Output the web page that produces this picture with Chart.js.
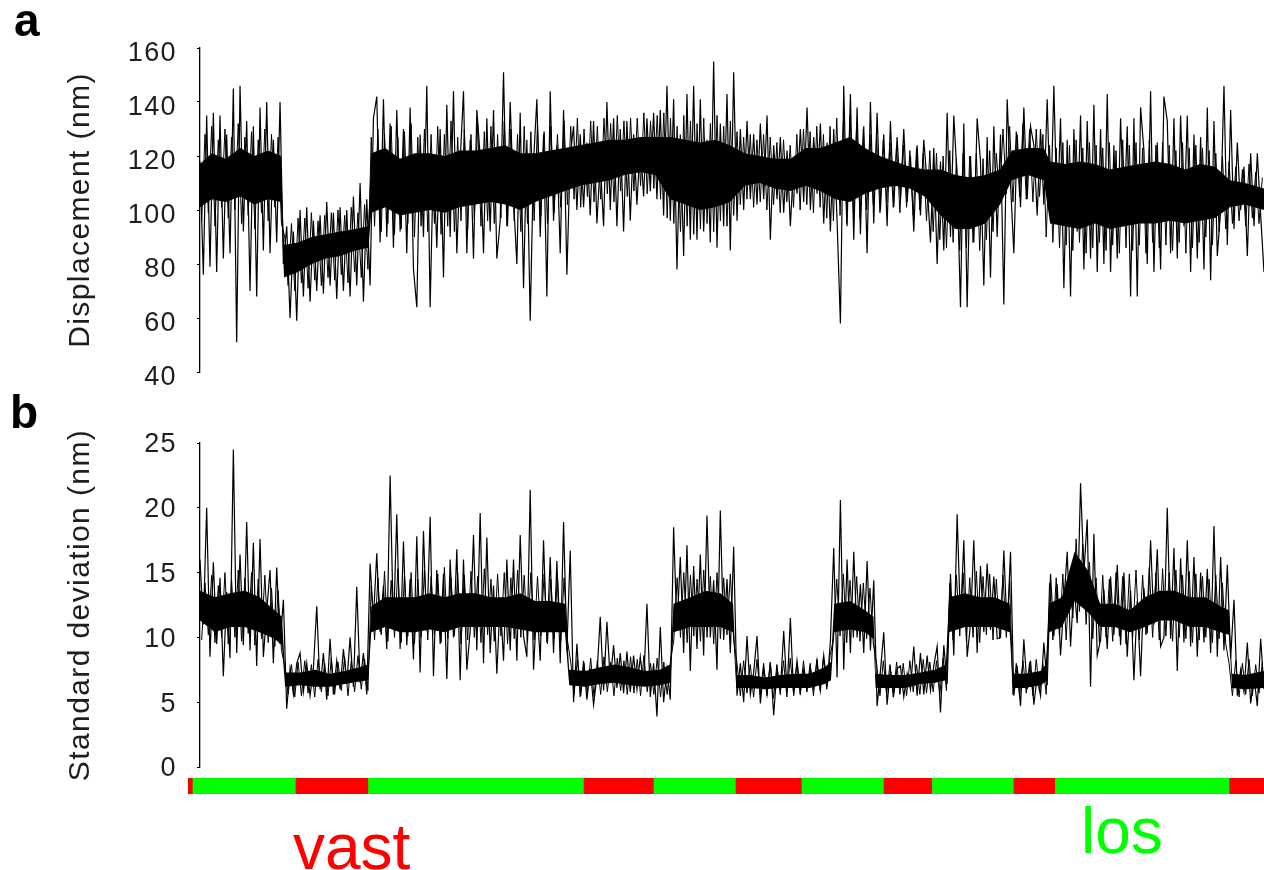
<!DOCTYPE html>
<html>
<head>
<meta charset="utf-8">
<script src="https://cdn.jsdelivr.net/npm/chart.js@4.4.1/dist/chart.umd.min.js"></script>
<style>
    html, body { margin: 0; padding: 0; background: #fff; }
    #wrap { position: relative; width: 1264px; height: 870px; overflow: hidden; font-family: "Liberation Sans", Arial, sans-serif; }
    canvas { position: absolute; left: 0; }
    #chartA { top: 0; }
    #chartB { top: 400px; }
    #chartS { top: 770px; }
    .tag { position: absolute; line-height: 1; white-space: nowrap; }
    .panel { font-weight: bold; font-size: 46px; color: #000; }
    .state { font-size: 64px; }
</style>
</head>
<body>
<div id="wrap">
    <canvas id="chartA" width="1264" height="400"></canvas>
    <canvas id="chartB" width="1264" height="390"></canvas>
    <canvas id="chartS" width="1264" height="30"></canvas>
    <div class="tag panel" style="left:14px; top:-3px;">a</div>
    <div class="tag panel" style="left:10px; top:389px;">b</div>
    <div class="tag state" style="left:293px; top:815px; color:#ff0000;">vast</div>
    <div class="tag state" style="left:1081px; top:799px; color:#00ff00;">los</div>
</div>

<script>
/* ===========================================
   DATA
=========================================== */
const dispTicks = [40, 60, 80, 100, 120, 140, 160];
const sdTicks = [0, 5, 10, 15, 20, 25];

// displacement trace: successive extreme samples, left to right
const dispTrace = [
    118, 76, 135, 79, 136, 77, 135, 82, 128, 84,
    145, 51, 146, 92, 133, 70, 131, 68, 138, 85,
    140, 84, 126, 88, 140, 80, 94, 60, 92, 59,
    100, 68, 101, 66, 96, 70, 98, 69, 103, 72,
    99, 67, 101, 70, 100, 68, 105, 72, 110, 66,
    104, 72, 134, 142, 88, 141, 90, 132, 86, 137,
    92, 130, 84, 138, 78, 64, 128, 90, 146, 64,
    120, 86, 130, 75, 139, 90, 144, 84, 118, 144,
    84, 126, 82, 137, 120, 84, 134, 92, 137, 82,
    96, 151, 94, 140, 104, 80, 136, 71, 126, 59,
    118, 141, 90, 128, 68, 144, 96, 124, 84, 137,
    76, 120, 131, 100, 128, 101, 125, 98, 133, 95,
    118, 94, 140, 100, 134, 94, 130, 92, 133, 96,
    128, 102, 125, 105, 134, 107, 136, 104, 137, 98,
    146, 96, 141, 78, 128, 83, 143, 89, 146, 89,
    141, 92, 126, 88, 155, 86, 132, 94, 143, 85,
    151, 96, 130, 100, 133, 104, 128, 102, 132, 104,
    135, 89, 124, 104, 127, 99, 122, 94, 118, 106,
    130, 103, 138, 100, 127, 106, 132, 95, 125, 92,
    130, 96, 58, 146, 94, 143, 89, 138, 91, 131,
    84, 140, 95, 136, 100, 128, 94, 133, 101, 127,
    104, 130, 103, 120, 92, 124, 98, 126, 110, 88,
    123, 80, 118, 85, 136, 90, 135, 112, 64, 132,
    64, 120, 88, 134, 118, 72, 127, 75, 131, 90,
    128, 65, 141, 110, 84, 128, 101, 138, 104, 131,
    124, 98, 130, 102, 141, 97, 146, 96, 134, 71,
    126, 68, 130, 92, 135, 78, 133, 82, 139, 77,
    130, 80, 143, 77, 124, 82, 134, 96, 131, 68,
    134, 68, 138, 122, 80, 144, 77, 125, 78, 142,
    133, 84, 134, 82, 135, 94, 135, 77, 128, 82,
    127, 78, 138, 74, 133, 83, 100, 146, 87, 137,
    93, 125, 100, 116, 83, 121, 94, 121, 98, 77
];

// in-between samples of the same trace (smaller excursions)
const dispFine = [
    96, 128, 99, 131, 94, 126, 101, 130, 97, 127,
    100, 132, 95, 127, 98, 129, 93, 126, 99, 130,
    96, 128, 101, 127, 95, 90, 72, 95, 70, 97,
    73, 97, 71, 99, 74, 96, 72, 98, 75, 99,
    74, 100, 76, 98, 73, 101, 77, 99, 75, 102,
    78, 127, 94, 130, 92, 128, 95, 131, 91, 127,
    93, 129, 95, 132, 90, 127, 94, 130, 92, 128,
    95, 131, 91, 128, 94, 133, 92, 127, 96, 130,
    93, 128, 97, 132, 94, 129, 96, 131, 95, 128,
    97, 133, 94, 130, 96, 128, 92, 131, 95, 129,
    96, 132, 98, 129, 95, 131, 99, 128, 101, 133,
    102, 131, 104, 134, 101, 130, 105, 133, 103, 131,
    104, 134, 106, 132, 103, 135, 107, 133, 105, 134,
    107, 134, 109, 136, 106, 133, 108, 135, 104, 136,
    97, 134, 95, 131, 92, 135, 94, 133, 91, 132,
    93, 134, 95, 132, 92, 135, 96, 131, 94, 133,
    98, 129, 102, 127, 104, 128, 101, 126, 103, 128,
    100, 127, 102, 125, 99, 126, 103, 124, 101, 128,
    100, 130, 102, 129, 99, 131, 101, 128, 97, 131,
    96, 134, 98, 133, 95, 135, 99, 132, 97, 130,
    100, 128, 102, 127, 99, 126, 103, 125, 101, 124,
    99, 124, 101, 122, 98, 123, 100, 121, 96, 122,
    92, 121, 89, 120, 86, 122, 88, 119, 85, 121,
    86, 120, 88, 121, 85, 119, 89, 122, 92, 121,
    104, 130, 106, 131, 103, 129, 105, 132, 104, 130,
    103, 130, 105, 128, 90, 124, 88, 123, 86, 125,
    87, 124, 85, 126, 88, 123, 84, 125, 86, 124,
    88, 123, 85, 125, 87, 122, 84, 126, 86, 124,
    85, 125, 87, 123, 84, 126, 88, 124, 86, 125,
    87, 124, 85, 122, 88, 125, 84, 123, 86, 124,
    88, 123, 90, 122, 87, 121, 92, 120, 93, 118,
    95, 116, 96, 115, 94, 117, 97, 114, 95, 112
];

// dense (solid black) band of the displacement trace; time in % of recording
const dispCoreT = [
    0, 1.1, 2.4, 3.8, 5.1, 6.4, 7.6,
    7.9, 9.2, 10.5, 11.8, 13.2, 14.6, 15.8,
    16.1, 17.4, 18.8, 20.2, 21.6, 23.0, 24.4, 25.9, 27.3, 28.7, 30.1, 31.5, 32.9, 34.3, 35.7, 37.1, 38.5, 39.9, 41.4, 42.8,
    44.2, 45.6, 47.0, 48.4, 49.8, 51.2, 52.6, 54.0, 55.5, 56.9, 58.3, 59.7, 61.1, 62.5, 63.9, 65.3, 66.7, 68.1, 69.6, 71.0, 72.4, 73.8, 75.2,
    76.3, 77.8, 79.3, 79.9,
    81.3, 82.7, 84.1, 85.5, 86.9, 88.3, 89.8, 91.2, 92.6, 94.0, 95.4, 96.8, 98.2, 100
];
const dispCoreLo = [
    101, 104, 103, 105, 102, 104, 103,
    75, 77, 80, 82, 83, 85, 86,
    99, 101, 98, 99, 100, 99, 101, 102, 103, 102, 100, 103, 105, 107, 109, 110, 111, 113, 114, 113,
    104, 102, 100, 101, 103, 109, 110, 108, 107, 109, 107, 104, 103, 106, 108, 109, 108, 105, 98, 93, 93, 95, 102,
    111, 113, 111, 95,
    94, 93, 95, 93, 94, 95, 95, 96, 95, 96, 97, 101, 102, 100
];
const dispCoreHi = [
    117, 121, 119, 123, 120, 122, 120,
    87, 88, 90, 91, 92, 93, 94,
    121, 123, 119, 121, 121, 120, 122, 122, 123, 124, 121, 121, 122, 123, 124, 125, 126, 126, 127, 127,
    127, 126, 125, 126, 124, 121, 120, 119, 119, 123, 123, 125, 127, 123, 120, 118, 116, 115, 115, 113, 112, 113, 115,
    122, 123, 123, 118,
    117, 118, 117, 115, 116, 117, 118, 117, 115, 117, 116, 111, 110, 108
];

// standard deviation trace
const sdTrace = [
    16, 11, 20, 8.5, 15.8, 9.5, 14.6, 7.0, 13.5, 8.4,
    24.5, 8.8, 16.4, 9.4, 18.9, 9.0, 17.3, 7.8, 17.6, 8.5,
    12.0, 15.2, 8.0, 15.4, 9.5, 12.9, 4.5, 7.6, 5.6, 8.0,
    8.8, 5.8, 8.0, 5.5, 7.6, 12.4, 6.0, 8.8, 5.2, 9.9,
    5.6, 8.2, 6.0, 9.1, 6.4, 10.0, 6.2, 13.9, 6.5, 8.8,
    5.6, 15.7, 11.4, 16.5, 10.4, 14.0, 9.1, 22.5, 10.6, 19.5,
    9.1, 17.4, 9.4, 14.5, 8.3, 17.8, 7.3, 18.2, 10.5, 19.3,
    7.0, 15.2, 9.5, 14.9, 6.8, 16.0, 10.0, 16.8, 6.7, 16.0,
    7.5, 10.5, 17.9, 9.0, 19.6, 8.0, 17.7, 8.8, 14.0, 7.2,
    13.0, 8.2, 16.0, 9.0, 16.0, 8.2, 17.9, 10.1, 8.5, 21.4,
    7.5, 12.6, 8.2, 17.5, 9.6, 16.2, 8.8, 15.9, 8.0, 18.9,
    9.0, 16.7, 5.0, 9.5, 5.4, 8.2, 5.2, 7.6, 4.8, 7.0,
    11.6, 5.9, 11.2, 6.6, 9.4, 6.1, 8.8, 5.7, 8.9, 5.8,
    8.6, 6.0, 8.5, 6.3, 12.6, 5.4, 8.0, 3.9, 10.8, 5.0,
    7.6, 5.2, 18.5, 10.5, 16.2, 8.8, 17.1, 7.4, 15.5, 9.1,
    16.4, 8.6, 19.4, 10.0, 14.4, 7.5, 19.8, 9.8, 14.5, 8.8,
    17.0, 5.5, 8.0, 5.0, 10.1, 5.6, 7.3, 10.1, 4.9, 7.6,
    5.6, 8.0, 4.0, 7.6, 5.9, 10.5, 5.8, 11.5, 5.5, 8.2,
    5.8, 7.5, 6.0, 7.6, 6.1, 8.2, 5.9, 8.6, 6.2, 9.7,
    16.9, 6.9, 20.6, 7.5, 16.0, 8.8, 16.6, 10.0, 14.1, 8.8,
    15.9, 9.0, 14.4, 4.7, 7.4, 10.4, 4.8, 7.5, 5.6, 7.6,
    7.8, 5.4, 7.2, 6.0, 9.3, 5.5, 8.8, 5.6, 8.6, 5.9,
    7.8, 9.3, 4.2, 9.4, 6.4, 14.9, 8.6, 19.5, 11.2, 17.5,
    8.5, 11.0, 17.5, 8.8, 15.5, 10.4, 15.7, 10.6, 14.7, 9.9,
    10.0, 16.7, 10.5, 16.6, 5.5, 7.8, 4.7, 9.85, 6.0, 8.2,
    4.8, 7.0, 5.5, 9.6, 6.3, 14.9, 10.1, 14.1, 8.6, 12.7,
    16.6, 9.3, 14.0, 11.1, 21.9, 15.0, 19.1, 6.2, 18.0, 8.6,
    9.8, 13.7, 9.1, 14.7, 10.2, 15.6, 9.4, 15.0, 8.5, 13.6,
    6.7, 12.8, 7.0, 13.8, 10.3, 17.5, 11.0, 16.8, 9.3, 10.0,
    20.0, 9.9, 16.9, 7.4, 16.1, 9.6, 17.5, 9.3, 16.2, 8.5,
    15.0, 9.6, 15.3, 8.8, 18.6, 8.5, 16.2, 9.0, 15.6, 8.4,
    12.9, 5.5, 7.5, 5.8, 9.6, 4.9, 7.0, 4.7, 9.9, 6.0
];

const sdFine = [
    9.8, 14.2, 10.2, 14.8, 9.6, 14.0, 10.0, 15.0, 9.5, 14.4,
    10.0, 15.2, 9.7, 14.6, 10.3, 15.0, 9.4, 14.5, 9.9, 14.8,
    9.6, 13.8, 9.3, 13.6, 9.0, 7.8, 5.6, 7.9, 5.4, 8.1,
    5.5, 8.2, 5.7, 7.9, 5.4, 8.3, 5.8, 8.0, 5.5, 8.4,
    5.6, 8.1, 5.9, 8.5, 5.5, 8.2, 5.8, 8.6, 6.0, 8.3,
    5.9, 14.0, 9.8, 14.6, 10.2, 15.1, 9.7, 14.4, 10.0, 15.3,
    9.6, 14.8, 10.1, 15.0, 9.5, 14.5, 10.0, 15.2, 9.8, 14.7,
    10.2, 14.9, 9.6, 15.4, 9.9, 14.6, 10.1, 15.0, 9.5, 14.8,
    9.8, 15.1, 10.0, 14.7, 9.6, 15.3, 10.2, 14.5, 9.7, 14.9,
    10.1, 15.0, 9.5, 14.6, 9.9, 15.2, 10.0, 14.8, 9.6, 15.0,
    9.8, 14.7, 10.1, 14.9, 9.5, 14.5, 9.9, 14.8, 9.7, 14.6,
    9.8, 8.1, 5.6, 8.3, 5.5, 8.0, 5.7, 8.4, 5.4, 8.2,
    5.6, 8.5, 5.8, 8.1, 5.5, 8.4, 5.9, 8.2, 5.6, 8.5,
    5.7, 8.3, 5.5, 8.6, 5.8, 8.0, 5.6, 8.4, 5.4, 8.1,
    5.6, 8.2, 9.8, 14.6, 10.0, 15.0, 9.6, 14.8, 10.1, 14.5,
    9.7, 15.2, 10.0, 14.7, 9.5, 15.0, 9.9, 14.6, 10.2, 14.9,
    9.8, 8.0, 5.5, 8.2, 5.7, 7.9, 5.4, 8.3, 5.6, 8.0,
    5.5, 8.1, 5.3, 7.9, 5.6, 8.2, 5.4, 8.4, 5.7, 8.0,
    5.6, 8.2, 5.8, 8.0, 5.5, 8.3, 5.9, 8.5, 6.0, 8.6,
    9.8, 14.5, 10.1, 14.9, 9.6, 14.4, 10.0, 14.7, 9.7, 14.2,
    9.9, 13.8, 9.5, 8.0, 5.5, 8.2, 5.6, 7.9, 5.4, 8.1,
    5.6, 8.0, 5.5, 8.2, 5.8, 7.9, 5.6, 8.3, 5.7, 8.1,
    5.8, 8.2, 5.6, 8.4, 5.9, 14.2, 9.8, 14.8, 10.1, 15.0,
    9.7, 14.6, 10.0, 15.1, 9.6, 14.7, 10.2, 14.9, 9.8, 14.5,
    9.9, 14.8, 10.0, 14.3, 5.6, 8.0, 5.5, 8.2, 5.7, 8.1,
    5.5, 8.3, 5.8, 8.0, 5.6, 14.2, 9.8, 14.6, 10.1, 14.9,
    9.8, 15.0, 11.5, 17.6, 12.0, 17.2, 11.0, 15.8, 9.9, 14.6,
    9.6, 14.8, 10.0, 14.5, 9.7, 15.0, 10.1, 14.7, 9.5, 14.9,
    10.0, 15.2, 9.8, 14.8, 10.2, 15.4, 10.0, 15.0, 9.8, 15.3,
    10.1, 15.0, 9.7, 15.2, 10.0, 14.8, 9.9, 15.1, 9.6, 14.9,
    9.8, 14.7, 10.0, 14.5, 9.6, 14.8, 9.9, 14.2, 9.5, 8.0,
    5.5, 8.2, 5.4, 8.0, 5.6, 8.3, 5.5, 7.9, 5.7, 8.1
];

const sdCoreT = [
    0, 1.4, 2.8, 4.2, 5.6, 7.0, 7.7,
    8.0, 9.4, 10.8, 12.2, 13.6, 15.0, 15.8,
    16.1, 17.4, 18.8, 20.2, 21.6, 23.0, 24.4, 25.9, 27.3, 28.7, 30.1, 31.5, 32.9, 34.3,
    34.7, 36.2, 37.6, 39.0, 40.4, 41.8, 43.2, 44.2,
    44.5, 46.1, 47.5, 48.9, 50.1,
    50.4, 51.7, 53.1, 54.5, 55.9, 57.3, 58.7, 59.3,
    59.6, 61.1, 62.5, 63.3,
    63.5, 64.9, 66.3, 67.7, 69.1, 70.1,
    70.4, 71.9, 73.3, 74.7, 76.1,
    76.4, 77.5, 79.0, 79.5,
    79.8, 81.0, 82.2, 83.5, 84.6, 86.0, 87.4, 88.8, 90.2, 91.6, 93.0, 94.5, 95.9, 96.7,
    97.0, 98.2, 100
];
const sdCoreLo = [
    11.3, 10.4, 10.8, 10.8, 10.4, 9.9, 9.4,
    6.2, 6.3, 6.2, 6.2, 6.4, 6.6, 6.7,
    10.4, 10.8, 10.4, 10.4, 10.6, 10.4, 10.8, 10.8, 10.8, 10.8, 10.6, 10.4, 10.4, 10.4,
    6.3, 6.2, 6.4, 6.5, 6.3, 6.2, 6.3, 6.5,
    10.4, 10.8, 10.8, 10.8, 10.4,
    6.1, 6.1, 6.0, 6.1, 6.1, 6.1, 6.4, 6.7,
    10.4, 10.6, 10.4, 9.9,
    6.1, 6.1, 6.1, 6.4, 6.5, 6.7,
    10.4, 10.8, 10.8, 10.8, 10.4,
    6.1, 6.1, 6.3, 6.6,
    10.4, 10.8, 12.8, 11.9, 10.8, 10.8, 10.4, 10.8, 11.3, 11.3, 10.8, 10.8, 10.4, 10.2,
    6.1, 6.0, 6.1
];
const sdCoreHi = [
    13.6, 13.1, 13.4, 13.6, 13.1, 12.1, 11.6,
    7.3, 7.3, 7.5, 7.2, 7.4, 7.7, 7.9,
    12.4, 13.1, 13.1, 13.1, 13.4, 13.1, 13.4, 13.4, 13.1, 13.1, 13.4, 12.8, 12.8, 12.6,
    7.5, 7.4, 7.7, 7.9, 7.7, 7.4, 7.5, 7.9,
    12.6, 13.1, 13.6, 13.4, 12.6,
    7.1, 7.1, 6.9, 7.1, 7.2, 7.2, 7.7, 8.1,
    12.6, 12.8, 12.1, 11.6,
    7.2, 7.1, 7.1, 7.3, 7.5, 7.9,
    13.1, 13.4, 13.1, 13.1, 12.6,
    7.2, 7.2, 7.4, 7.9,
    12.6, 13.1, 16.6, 15.1, 12.6, 12.6, 12.1, 13.1, 13.6, 13.6, 13.1, 13.1, 12.4, 12.1,
    7.2, 7.1, 7.4
];

// state of the tether, time in % of the recording
const stateEdges = [-1.13, -0.66, 9.02, 15.84, 36.09, 42.67, 50.38, 56.58, 64.29, 68.84, 76.50, 80.40, 96.77, 100];
const stateKind = ["vast", "los", "vast", "los", "vast", "los", "vast", "los", "vast", "los", "vast", "los", "vast"];
const stateColors = { vast: "#ff0000", los: "#00ff00" };

const FONT = '"Liberation Sans", Arial, sans-serif';


/* ===========================================
   HELPERS
=========================================== */
function traceData(values) {
    return values.map((v, i) => ({ x: i * 100 / (values.length - 1), y: v }));
}

// samples lying halfway between the main ones
function fineData(values) {
    return values.map((v, i) => ({ x: (i + 0.5) * 100 / values.length, y: v }));
}

function bandData(times, values) {
    return times.map((t, i) => ({ x: t, y: values[i] }));
}

// slightly wider text, like the original figure
const wideText = {
    id: "wideText",
    beforeDraw: chart => { chart.ctx.letterSpacing = "1.4px"; }
};

function makePanel(id, trace, fine, coreT, coreLo, coreHi, ticks, title, padTop, padBottom, labelOffset) {
    return new Chart(document.getElementById(id), {
        type: "line",
        data: {
            datasets: [
                {
                    data: traceData(trace),
                    borderColor: "#000",
                    borderWidth: 1.2,
                    pointRadius: 0,
                    tension: 0,
                    fill: false,
                    order: 0
                },
                {
                    data: bandData(coreT, coreLo),
                    borderColor: "rgba(0,0,0,0)",
                    borderWidth: 0,
                    pointRadius: 0,
                    fill: false,
                    order: 3
                },
                {
                    data: bandData(coreT, coreHi),
                    borderColor: "rgba(0,0,0,0)",
                    borderWidth: 0,
                    pointRadius: 0,
                    fill: "-1",
                    backgroundColor: "#000",
                    order: 2
                },
                {
                    data: fineData(fine),
                    borderColor: "#000",
                    borderWidth: 1,
                    pointRadius: 0,
                    tension: 0,
                    fill: false,
                    order: 1
                }
            ]
        },
        plugins: [wideText],
        options: {
            responsive: false,
            animation: false,
            devicePixelRatio: 1,
            layout: { padding: { top: padTop, bottom: padBottom, left: 0, right: 0 } },
            plugins: { legend: { display: false }, tooltip: { enabled: false } },
            scales: {
                x: { type: "linear", display: false, min: 0, max: 100, offset: false },
                y: {
                    min: ticks[0],
                    max: ticks[ticks.length - 1],
                    afterFit: s => { s.width = 200; s.paddingTop = 0; s.paddingBottom = 0; },
                    afterBuildTicks: s => { s.ticks = ticks.map(v => ({ value: v })); },
                    grid: { drawOnChartArea: false, drawTicks: true, tickLength: 3, color: "#000" },
                    border: { display: true, color: "#000", width: 1.3 },
                    ticks: {
                        color: "#1e1e1e",
                        padding: 20,
                        labelOffset: labelOffset,
                        font: { family: FONT, size: 27 }
                    },
                    title: {
                        display: true,
                        text: title,
                        color: "#1e1e1e",
                        padding: { top: 63, bottom: 0 },
                        font: { family: FONT, size: 30 }
                    }
                }
            }
        }
    });
}


/* ===========================================
   PANELS a AND b
=========================================== */
makePanel("chartA", dispTrace, dispFine, dispCoreT, dispCoreLo, dispCoreHi, dispTicks, "Displacement (nm)", 48, 28, 6);
makePanel("chartB", sdTrace, sdFine, sdCoreT, sdCoreLo, sdCoreHi, sdTicks, "Standard deviation (nm)", 43, 23, 2);


/* ===========================================
   STATE BAR (vast / los)
=========================================== */
new Chart(document.getElementById("chartS"), {
    type: "bar",
    data: {
        labels: ["state"],
        datasets: [{
            data: stateKind.map((k, i) => ({ y: "state", x: [stateEdges[i], stateEdges[i + 1]] })),
            backgroundColor: stateKind.map(k => stateColors[k]),
            borderWidth: 0,
            barPercentage: 1,
            categoryPercentage: 1
        }]
    },
    options: {
        indexAxis: "y",
        responsive: false,
        animation: false,
        devicePixelRatio: 1,
        layout: { padding: { left: 188, right: 0, top: 8, bottom: 6 } },
        plugins: { legend: { display: false }, tooltip: { enabled: false } },
        scales: {
            x: { type: "linear", display: false, min: stateEdges[0], max: 100 },
            y: { display: false }
        }
    }
});
</script>
</body>
</html>
